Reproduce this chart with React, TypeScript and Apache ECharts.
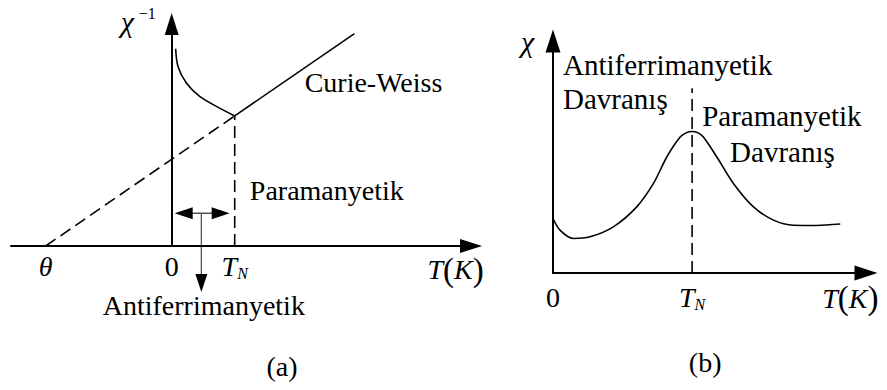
import React, { useEffect, useRef } from "react";
import * as echarts from "echarts";

const FONT = "Liberation Serif";

// (a) inverse susceptibility χ⁻¹ against temperature (T_N = 1, θ = -2)
const aLowT = [0.063, 0.1, 0.233, 0.444, 0.709, 1.0];
const aLowChiInv = [4.55, 4.14, 3.76, 3.45, 3.22, 3.0];
const aCurieWeissT = [1.0, 2.9];
const aCurieWeissChiInv = [3.0, 4.9];
const aExtrapT = [-2.0, 1.0];
const aExtrapChiInv = [0.0, 3.0];
const aNeelT = [1.0, 1.0];
const aNeelChiInv = [0.0, 3.0];
const aTickValues = [-2, 0, 1];
const aTickLabels = ["{i|θ}", "{u|0}", "{t|T}{n|N}"];

// (b) susceptibility χ against temperature (T_N = 1)
const bT = [0, 0.05, 0.146, 0.266, 0.434, 0.602, 0.722, 0.818, 0.914, 0.96, 1.0, 1.04, 1.081, 1.178, 1.297, 1.441, 1.585, 1.729, 1.897, 2.065];
const bChi = [2.35, 1.85, 1.49, 1.56, 1.99, 2.85, 3.86, 5.0, 5.86, 6.05, 6.1, 6.05, 5.86, 5.0, 3.86, 2.85, 2.28, 2.06, 2.05, 2.11];
const bNeelT = [1.0, 1.0];
const bNeelChi = [0.0, 7.96];
const bTickValues = [0, 1];
const bTickLabels = ["{u|0}", "{t|T}{n|N}"];

const pairs = (xs: number[], ys: number[]) => xs.map((x, i) => [x, ys[i]]);

const tickRich = {
  i: { fontFamily: FONT, fontSize: 28, fontStyle: "italic", color: "#000", lineHeight: 30 },
  u: { fontFamily: FONT, fontSize: 28, color: "#000", lineHeight: 30 },
  t: { fontFamily: FONT, fontSize: 28, fontStyle: "italic", color: "#000", lineHeight: 30 },
  n: { fontFamily: FONT, fontSize: 16, fontStyle: "italic", color: "#000", lineHeight: 12, verticalAlign: "bottom" },
};

const labelFor = (values: number[], labels: string[]) => (v: number) => {
  const k = values.indexOf(v);
  return k >= 0 ? labels[k] : "";
};

const axisLineStyle = (w: number, h: number) => ({
  show: true,
  onZero: true,
  symbol: ["none", "triangle"],
  symbolSize: [w, h],
  lineStyle: { color: "#000", width: 2 },
});

const solid = { color: "#000", width: 1.6, type: "solid" as const };
const dashed = { color: "#000", width: 1.6, type: [12, 6] as number[] };

export default function App() {
  const ref = useRef<HTMLDivElement>(null);

  useEffect(() => {
    if (!ref.current) return;
    const chart = echarts.init(ref.current, undefined, { renderer: "svg" });

    const option: any = {
      animation: false,
      backgroundColor: "#fff",
      grid: [
        { left: 11, top: 24, width: 460, height: 222, outerBoundsMode: "none" },
        { left: 553, top: 41, width: 313, height: 232, outerBoundsMode: "none" },
      ],
      xAxis: [
        {
          type: "value", gridIndex: 0, min: -2.55, max: 4.75,
          axisLine: axisLineStyle(14, 22),
          axisTick: { show: false },
          splitLine: { show: false },
          axisLabel: {
            show: true, customValues: aTickValues, margin: 5,
            formatter: labelFor(aTickValues, aTickLabels), rich: tickRich,
          },
        },
        {
          type: "value", gridIndex: 1, min: 0, max: 2.25,
          axisLine: axisLineStyle(15, 23),
          axisTick: { show: false },
          splitLine: { show: false },
          axisLabel: {
            show: true, customValues: bTickValues, margin: 9,
            formatter: labelFor(bTickValues, bTickLabels), rich: tickRich,
          },
        },
      ],
      yAxis: [
        {
          type: "value", gridIndex: 0, min: 0, max: 5.12,
          axisLine: axisLineStyle(14, 22),
          axisTick: { show: false }, splitLine: { show: false }, axisLabel: { show: false },
        },
        {
          type: "value", gridIndex: 1, min: 0, max: 10,
          axisLine: axisLineStyle(15, 23),
          axisTick: { show: false }, splitLine: { show: false }, axisLabel: { show: false },
        },
      ],
      series: [
        {
          type: "line", xAxisIndex: 0, yAxisIndex: 0, data: pairs(aLowT, aLowChiInv),
          smooth: 0.3, showSymbol: false, lineStyle: solid,
        },
        {
          type: "line", xAxisIndex: 0, yAxisIndex: 0, data: pairs(aCurieWeissT, aCurieWeissChiInv),
          showSymbol: false, lineStyle: solid,
        },
        {
          type: "line", xAxisIndex: 0, yAxisIndex: 0, data: pairs(aExtrapT, aExtrapChiInv),
          showSymbol: false, lineStyle: dashed,
        },
        {
          type: "line", xAxisIndex: 0, yAxisIndex: 0, data: pairs(aNeelT, aNeelChiInv),
          showSymbol: false, lineStyle: dashed,
        },
        {
          type: "line", xAxisIndex: 1, yAxisIndex: 1, data: pairs(bT, bChi),
          smooth: 0.3, showSymbol: false, lineStyle: solid,
        },
        {
          type: "line", xAxisIndex: 1, yAxisIndex: 1, data: pairs(bNeelT, bNeelChi),
          showSymbol: false, lineStyle: dashed,
        },
      ],
    };
    chart.setOption(option);

    const p = (g: number, x: number, y: number) =>
      chart.convertToPixel({ gridIndex: g } as any, [x, y]) as number[];

    const txt = (pt: number[], text: string, align = "left", extra: any = {}) => ({
      type: "text",
      x: pt[0],
      y: pt[1],
      style: {
        text, fontFamily: FONT, fontSize: 28, fill: "#000",
        align, verticalAlign: "middle", ...extra,
      },
    });

    const tkRich = {
      i: { fontFamily: FONT, fontSize: 28, fontStyle: "italic", fill: "#000" },
      p: { fontFamily: FONT, fontSize: 33, fill: "#000" },
    };

    // double arrow marking the ordered range 0 … T_N
    const yArr = p(0, 0, 0.755)[1];
    const xL = p(0, 0.048, 0)[0];
    const xR = p(0, 0.92, 0)[0];
    const xV = p(0, 0.471, 0)[0];
    const yTip = p(0, 0, -1.06)[1];

    const graphic: any[] = [
      // panel (a)
      txt([p(0, 0, 5.12)[0] - 51, p(0, 0, 5.12)[1] - 3], "χ", "left", { fontStyle: "italic", fontSize: 30 }),
      txt([p(0, 0, 5.12)[0] - 33, p(0, 0, 5.12)[1] - 11], "−1", "left", { fontSize: 16 }),
      txt(p(0, 2.11, 3.76), "Curie-Weiss"),
      txt(p(0, 1.24, 1.29), "Paramanyetik"),
      txt(p(0, 0.51, -1.38), "Antiferrimanyetik", "center"),
      txt(p(0, 4.06, -0.55), "{i|T}{p|(}{i|K}{p|)}", "left", { rich: tkRich }),
      txt(p(0, 1.75, -2.79), "(a)", "center"),
      { type: "line", shape: { x1: xL + 12, y1: yArr, x2: xR - 12, y2: yArr }, style: { stroke: "#444", lineWidth: 1.4 } },
      { type: "polygon", shape: { points: [[xL, yArr], [xL + 18, yArr - 6], [xL + 18, yArr + 6]] }, style: { fill: "#000" } },
      { type: "polygon", shape: { points: [[xR, yArr], [xR - 18, yArr - 6], [xR - 18, yArr + 6]] }, style: { fill: "#000" } },
      { type: "line", shape: { x1: xV, y1: yArr, x2: xV, y2: yTip - 16 }, style: { stroke: "#555", lineWidth: 1.3 } },
      { type: "polygon", shape: { points: [[xV, yTip], [xV - 6, yTip - 18], [xV + 6, yTip - 18]] }, style: { fill: "#000" } },
      // panel (b)
      txt([p(1, 0, 10)[0] - 32, p(1, 0, 10)[1]], "χ", "left", { fontStyle: "italic", fontSize: 30 }),
      txt(p(1, 0.072, 8.97), "Antiferrimanyetik", "left", { fontSize: 29 }),
      txt(p(1, 0.072, 7.5), "Davranış", "left", { fontSize: 29 }),
      txt(p(1, 1.072, 6.77), "Paramanyetik", "left", { fontSize: 29 }),
      txt(p(1, 1.273, 5.22), "Davranış", "left", { fontSize: 29 }),
      txt(p(1, 1.935, -1.08), "{i|T}{p|(}{i|K}{p|)}", "left", { rich: tkRich }),
      txt(p(1, 1.094, -3.84), "(b)", "center"),
    ];
    chart.setOption({ graphic });

    return () => chart.dispose();
  }, []);

  return (
    <div
      ref={ref}
      style={{ position: "fixed", left: 0, top: 0, width: 887, height: 390, background: "#fff" }}
    />
  );
}
